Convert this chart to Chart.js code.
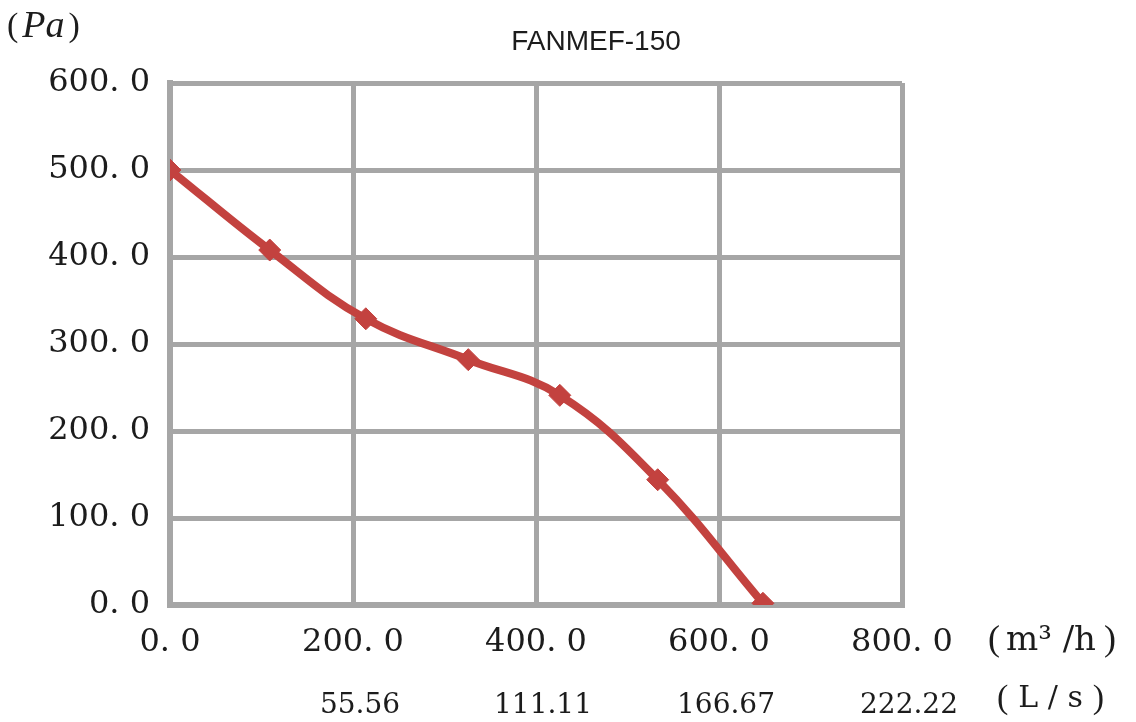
<!DOCTYPE html>
<html>
<head>
<meta charset="utf-8">
<title>FANMEF-150</title>
<script src="https://cdn.jsdelivr.net/npm/chart.js@4/dist/chart.umd.min.js"></script>
<style>
  html, body { margin: 0; padding: 0; background: #fff; }
  #wrap { width: 1136px; height: 722px; position: relative; }
</style>
</head>
<body>
<div id="wrap"><canvas id="chart-fan"></canvas></div>
<script>
// ── data ───────────────────────────────────────────────────────────────────
const flowValues     = [0, 109, 214, 326, 426, 533, 648];   // m³/h
const pressureValues = [500, 408, 329, 282, 241, 144, 2];   // Pa
const flowTicks      = [0, 200, 400, 600, 800];
const litreLabels    = ['', '55.56', '111.11', '166.67', '222.22'];   // L/s

// ── shared styles ──────────────────────────────────────────────────────────
const SERIF   = "'DejaVu Serif', 'Liberation Serif', serif";
const PAREN   = "'Liberation Serif', serif";
const GRID    = '#a6a6a6';
const INK     = '#1c1c1c';
const CURVE   = '#c3423f';

const fmt = (v) => v.toFixed(1).replace('.', '. ');

// draws a row of [text, font, gap] pieces left to right
function drawPieces(ctx, pieces, x, y) {
  for (const [text, font, gap = 0] of pieces) {
    ctx.font = font;
    ctx.fillText(text, x, y);
    x += ctx.measureText(text).width + gap;
  }
}

// title and unit labels drawn as plain text around the plot
const unitLabels = {
  id: 'unitLabels',
  afterDraw(chart) {
    const ctx = chart.ctx;
    ctx.save();
    ctx.fillStyle = INK;
    ctx.textBaseline = 'middle';

    ctx.textAlign = 'center';
    ctx.font = "28px 'Liberation Sans', Arial, sans-serif";
    ctx.fillText('FANMEF-150', 596, 42);

    ctx.textAlign = 'left';
    // (Pa)
    drawPieces(ctx, [
      ['(', `34px ${PAREN}`, 4],
      ['Pa', `italic 38px ${PAREN}`, 4],
      [')', `34px ${PAREN}`],
    ], 7, 27);

    // (m³/h) and (L/s)
    drawPieces(ctx, [
      ['(', `36px ${PAREN}`, 6],
      ['m³ /h', `34px ${SERIF}`, 8],
      [')', `36px ${PAREN}`],
    ], 988, 641);
    drawPieces(ctx, [
      ['(', `34px ${PAREN}`, 10],
      ['L / s', `30px ${SERIF}`, 10],
      [')', `34px ${PAREN}`],
    ], 997, 699);
    ctx.restore();
  },
};

new Chart(document.getElementById('chart-fan'), {
  type: 'line',
  data: {
    datasets: [{
      label: 'FANMEF-150',
      data: flowValues.map((f, i) => ({ x: f, y: pressureValues[i] })),
      borderColor: CURVE,
      backgroundColor: CURVE,
      borderWidth: 8,
      tension: 0.4,
      pointStyle: 'rectRot',
      pointRadius: 11,
      pointBorderWidth: 1,
      pointBorderColor: CURVE,
      pointBackgroundColor: CURVE,
      fill: false,
    }],
  },
  options: {
    responsive: true,
    maintainAspectRatio: false,
    animation: false,
    layout: { padding: { left: 0, right: 234, top: 83, bottom: 0 } },
    plugins: {
      legend: { display: false },
      tooltip: { enabled: false },
      title: { display: false },
    },
    scales: {
      x: {
        type: 'linear',
        position: 'bottom',
        min: 0,
        max: 800,
        weight: 0,
        afterBuildTicks: (axis) => { axis.ticks = flowTicks.map(v => ({ value: v })); },
        afterFit: (axis) => { axis.height = 60; },
        grid: { color: GRID, lineWidth: 5, drawTicks: false },
        border: { color: GRID, width: 6 },
        ticks: {
          color: INK,
          padding: 18,
          maxRotation: 0,
          font: { family: SERIF, size: 32 },
          callback: (v) => fmt(v),
        },
      },
      x2: {
        type: 'linear',
        position: 'bottom',
        min: 0,
        max: 800,
        weight: 1,
        afterBuildTicks: (axis) => { axis.ticks = flowTicks.map(v => ({ value: v })); },
        afterFit: (axis) => { axis.height = 57; },
        grid: { display: false, drawTicks: false },
        border: { display: false },
        ticks: {
          color: INK,
          padding: 24,
          labelOffset: 7,
          maxRotation: 0,
          font: { family: SERIF, size: 28 },
          callback: (v, i) => litreLabels[i],
        },
      },
      y: {
        type: 'linear',
        min: 0,
        max: 600,
        afterFit: (axis) => { axis.width = 170; },
        grid: { color: GRID, lineWidth: 5, drawTicks: false },
        border: { color: GRID, width: 6 },
        ticks: {
          stepSize: 100,
          color: INK,
          padding: 20,
          font: { family: SERIF, size: 32 },
          callback: (v) => fmt(v),
        },
      },
    },
  },
  plugins: [unitLabels],
});
</script>
</body>
</html>
